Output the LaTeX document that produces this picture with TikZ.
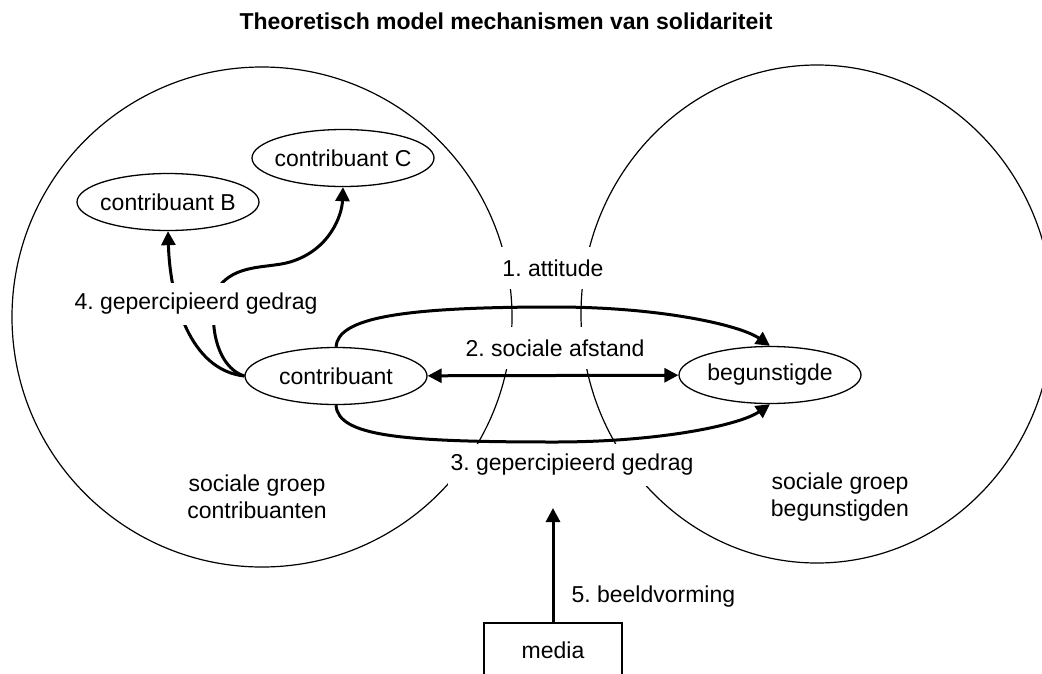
\documentclass[tikz,border=0pt]{standalone}
\usepackage{fontspec}
\setmainfont{Liberation Sans}
\usetikzlibrary{shapes.geometric,arrows.meta}
\frenchspacing
\begin{document}
\begin{tikzpicture}[x=1pt,y=-1pt,
  every node/.style={font=\fontsize{23}{27}\selectfont},
  grp/.style={draw, line width=1.2pt},
  oval/.style={ellipse, draw, line width=1.3pt, fill=white, minimum width=182pt, minimum height=57pt, inner xsep=-30pt, inner ysep=0pt},
  lbl/.style={fill=white, minimum height=42pt, inner xsep=3pt, inner ysep=0pt},
  thickarrow/.style={line width=3pt, -{Triangle[length=14pt,width=14pt]}},
  botharrow/.style={line width=3pt, {Triangle[length=14pt,width=14pt]}-{Triangle[length=14pt,width=14pt]}}]
\useasboundingbox (0,0) rectangle (1042,673);
% social groups
\draw[grp] (262,317) circle[radius=250];
\draw[grp] (817,314) ellipse[x radius=236, y radius=249];
% title
\node[font=\bfseries\fontsize{23}{27}\selectfont] (title) at (506,21) {Theoretisch model mechanismen van solidariteit};
% actors
\node[oval] (cB) at (168,202) {contribuant B};
\node[oval] (cC) at (343,158) {contribuant C};
\node[oval] (con) at (336,376) {contribuant};
\node[oval] (beg) at (770,375) {begunstigde};
\node[draw, line width=1.2pt, minimum width=138pt, minimum height=54pt, inner sep=0pt] (media) at (553,650) {media};
% arrows to B and C
\draw[thickarrow] (con.west) .. controls (190,370) and (170,300) .. (cB.south);
\draw[thickarrow] (con.west) .. controls (210,365) and (207,302) .. (222,283) .. controls (240,264) and (270,268) .. (290,262) .. controls (330,250) and (342,215) .. (cC.south);
% labels
\node[lbl] (l4) at (196,304) {4. gepercipieerd gedrag};
\node[lbl] (l1) at (553,268) {1. attitude};
\node[lbl] (l2) at (555,348) {2. sociale afstand};
\node[lbl] (l3) at (572,465) {3. gepercipieerd gedrag};
\node[anchor=west] (l5) at (568,597) {5. beeldvorming};
\node[align=center] (g1) at (257,497) {sociale groep\\contribuanten};
\node[align=center] (g2) at (840,497) {sociale groep\\begunstigden};
% main arrows
\draw[thickarrow] (con.north) .. controls (338,318) and (400,307) .. (555,307) .. controls (660,307) and (740,325) .. (beg.north);
\draw[thickarrow] (con.south) .. controls (338,436) and (400,442) .. (555,442) .. controls (660,442) and (740,425) .. (beg.south);
\draw[botharrow] (con) -- (beg);
\coordinate (mtip) at (553,508);
\draw[thickarrow] (media.north) -- (mtip);
\end{tikzpicture}
\end{document}
